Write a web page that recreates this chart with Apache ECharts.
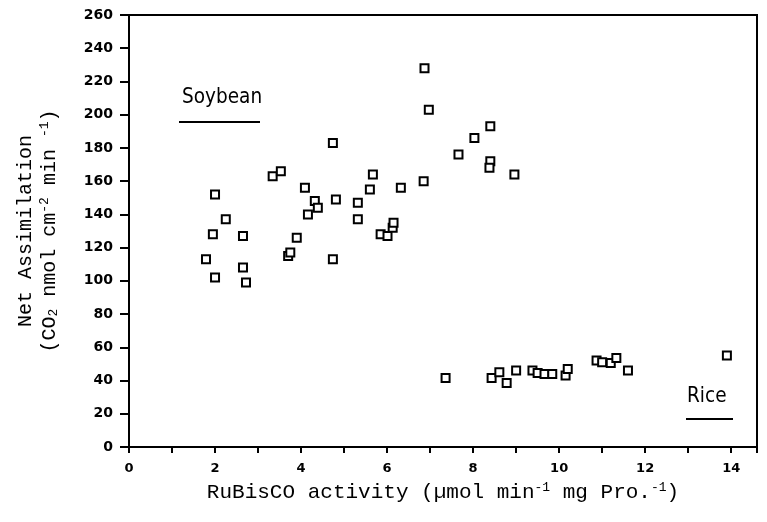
<!DOCTYPE html>
<html>
<head>
<meta charset="utf-8">
<script src="https://cdn.jsdelivr.net/npm/echarts@6/dist/echarts.min.js"></script>
<style>
  html, body { margin: 0; padding: 0; background: #fff; }
  #main { width: 767px; height: 522px; }
</style>
</head>
<body>
<div id="main"></div>
<script>
// values
var soyX = [1.79, 1.95, 2.0, 2.0, 2.25, 2.65, 2.65, 2.72, 3.34, 3.53, 3.7, 3.75, 3.9,
            4.09, 4.16, 4.32, 4.39, 4.74, 4.81, 4.74, 5.32, 5.32, 5.6, 5.67, 5.85, 6.01,
            6.13, 6.15, 6.32, 6.85, 6.87, 6.97, 7.66, 8.03, 8.4, 8.4, 8.38, 8.96];
var soyY = [113, 128, 152, 102, 137, 127, 108, 99, 163, 166, 115, 117, 126,
            156, 140, 148, 144, 183, 149, 113, 147, 137, 155, 164, 128, 127,
            132, 135, 156, 160, 228, 203, 176, 186, 193, 172, 168, 164];
var riceX = [7.36, 8.43, 8.61, 8.78, 9.0, 9.38, 9.5, 9.66, 9.84, 10.15, 10.2,
             10.87, 11.0, 11.2, 11.33, 11.6, 13.9];
var riceY = [41.5, 41.5, 45, 38.5, 46, 46, 44.5, 44, 44, 43, 47,
             52, 51, 50.5, 53.6, 46, 55];

function pairs(xs, ys) {
    return xs.map(function (x, i) { return [x, ys[i]]; });
}

var tickFont = { fontFamily: 'DejaVu Sans', fontWeight: 'bold', fontSize: 13, color: '#000' };
var titleFont = 'Liberation Mono';
var labelFont = '22px "DejaVu Sans", sans-serif';

var myChart = echarts.init(document.getElementById('main'));

var marker = {
    type: 'scatter',
    symbol: 'rect',
    symbolSize: 8,
    itemStyle: { color: '#fff', borderColor: '#000', borderWidth: 2, opacity: 1 },
    emphasis: { disabled: true }
};

var option = {
    animation: false,
    backgroundColor: '#fff',
    grid: {
        left: 129, right: 10, top: 15, bottom: 75,
        show: true, borderColor: '#000', borderWidth: 2
    },
    xAxis: {
        type: 'value',
        min: 0, max: 14.6, interval: 1,
        splitLine: { show: false },
        axisLine: { lineStyle: { color: '#000', width: 2 } },
        axisTick: { inside: false, length: 6, lineStyle: { color: '#000', width: 2 } },
        axisLabel: Object.assign({
            margin: 15,
            formatter: function (v) { return (v % 2 === 0) ? v : ''; }
        }, tickFont),
        name: '{t|RuBisCO activity (µmol min}{s|-1}{t| mg Pro.}{s|-1}{t|)}',
        nameLocation: 'middle',
        nameGap: 34,
        nameTextStyle: {
            rich: {
                t: { fontFamily: titleFont, fontSize: 21, color: '#000' },
                s: { fontFamily: titleFont, fontSize: 13, color: '#000', padding: [0, 0, 10, 0] }
            }
        }
    },
    yAxis: {
        type: 'value',
        min: 0, max: 260, interval: 20,
        splitLine: { show: false },
        axisLine: { lineStyle: { color: '#000', width: 2 } },
        axisTick: { inside: false, length: 9, lineStyle: { color: '#000', width: 2 } },
        axisLabel: Object.assign({ margin: 16 }, tickFont, { fontSize: 14 }),
        name: '{t|Net Assimilation}\n{t|(CO}{b|2}{t| nmol cm}{s|-2}{t| min }{s|-1}{t|)}',
        nameLocation: 'middle',
        nameGap: 67,
        nameTextStyle: {
            lineHeight: 24,
            rich: {
                t: { fontFamily: titleFont, fontSize: 20, color: '#000', lineHeight: 24 },
                s: { fontFamily: titleFont, fontSize: 13, color: '#000', padding: [0, 0, 10, 0], lineHeight: 24 },
                b: { fontFamily: titleFont, fontSize: 13, color: '#000', padding: [8, 0, 0, 0], lineHeight: 24 }
            }
        }
    },
    series: [
        Object.assign({ name: 'Soybean', data: pairs(soyX, soyY) }, marker),
        Object.assign({ name: 'Rice', data: pairs(riceX, riceY) }, marker)
    ],
    graphic: [
        {
            type: 'text', x: 182, y: 86, scaleX: 0.84,
            style: { text: 'Soybean', font: labelFont, fill: '#000' }
        },
        {
            type: 'line', shape: { x1: 179, y1: 122, x2: 260, y2: 122 },
            style: { stroke: '#000', lineWidth: 2 }
        },
        {
            type: 'text', x: 687, y: 385, scaleX: 0.84,
            style: { text: 'Rice', font: labelFont, fill: '#000' }
        },
        {
            type: 'line', shape: { x1: 686, y1: 419, x2: 733, y2: 419 },
            style: { stroke: '#000', lineWidth: 2 }
        }
    ]
};

myChart.setOption(option);
</script>
</body>
</html>
